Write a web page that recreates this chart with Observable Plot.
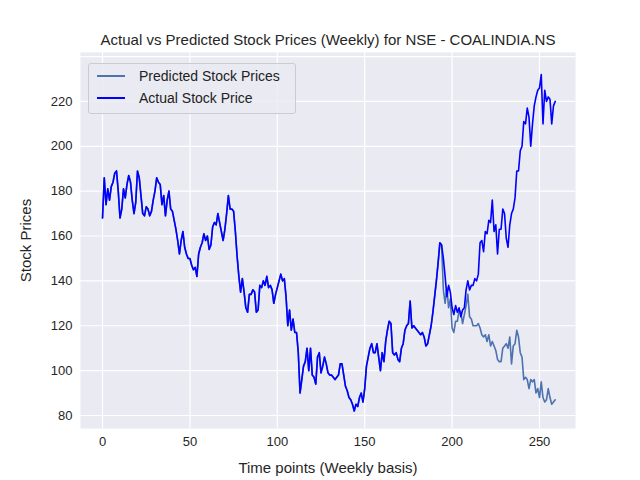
<!DOCTYPE html>
<html><head><meta charset="utf-8">
<script src="https://cdn.jsdelivr.net/npm/d3@7"></script>
<script src="https://cdn.jsdelivr.net/npm/@observablehq/plot@0.6"></script>
<style>
body{margin:0;background:#fff;font-family:"Liberation Sans",Arial,sans-serif}
#wrap{position:relative;width:640px;height:480px}
.lg{position:absolute;left:88px;top:63px;width:206px;height:49px;border:1px solid #ccc;border-radius:3px;background:rgba(234,234,242,0.8);font-size:14px;color:#222}
.lg div{position:absolute;left:8px;display:flex;align-items:center}
.lg span{display:inline-block;width:28px;height:0;border-top:2px solid;margin-right:14px}
</style></head><body>
<div id="wrap"></div>
<script>
const actual = [168,186,174,181,176,182,184,188,189,180,168,172,181,177,183,187,184,176,170,175,
189,186,178,170,169,173,172,169,171,176,180,186,184,183,174,178,169,176,180,172,
171,167,163,158,152,158,162,155,152,150,150,147,145,146,142,152,155,157,161,158,
160,154,156,164,166,165,170,166,162,158,163,170,178,172,172,171,162,151,142,135,
141,135,128,126,134,134,136,135,126,127,138,137,140,138,142,137,138,136,130,134,
137,140,143,140,141,133,120,127,118,123,117,117,108,90,96,102,104,110,100,110,
98,97,94,106,108,99,102,106,103,99,98,98,97,96,97,98,103,103,98,93,
91,88,87,85,82,85,84,88,90,86,92,102,106,110,112,108,108,112,106,100,
108,104,113,118,122,121,108,107,108,105,104,110,112,118,120,121,131,119,120,119,
118,117,116,117,115,111,112,116,120,126,133,140,148,157,156,150,142,133,138,135,
128,125,129,126,128,124,127,128,136,140,136,138,138,141,140,143,157,158,153,162,
161,167,166,176,162,165,152,163,163,172,170,159,155,165,170,172,177,189,189,198,
200,211,210,217,213,200,210,218,222,225,226,232,210,225,220,222,221,210,218,220];
const predictedTail = [136,130,137,128,132,119,117,122,122,127,126,121,125,129,134,124,123,120,120,120,
121,119,116,115,116,113,116,111,113,111,109,105,104,104,110,111,112,110,115,103,
111,112,118,115,108,106,96,97,96,92,96,95,96,90,92,88,95,88,86,87,92,88,85,86,87].slice(0,65);
const predicted = actual.slice(0,195).concat(predictedTail);
const rowsA = actual.map((v,i)=>({t:i,v}));
const rowsP = predicted.map((v,i)=>({t:i,v}));

const chart = Plot.plot({
  width:640, height:480,
  marginTop:52, marginLeft:80, marginRight:65, marginBottom:52,
  style:{fontFamily:"Liberation Sans, Arial, sans-serif", fontSize:"13px", color:"#262626", background:"#fff"},
  x:{domain:[-12.6,270.6], ticks:[0,50,100,150,200,250], label:"Time points (Weekly basis)", labelArrow:"none", labelAnchor:"center", labelOffset:44, tickSize:0, tickPadding:8},
  y:{domain:[74.2,241.8], ticks:[80,100,120,140,160,180,200,220], label:"Stock Prices", labelArrow:"none", labelAnchor:"center", labelOffset:60, tickSize:0, tickPadding:8},
  marks:[
    Plot.frame({fill:"#eaeaf2", stroke:null}),
    Plot.gridX({stroke:"#fff", strokeOpacity:1, strokeWidth:1.2}),
    Plot.gridY({stroke:"#fff", strokeOpacity:1, strokeWidth:1.2}),
    Plot.line(rowsP,{x:"t", y:"v", stroke:"#4c72b0", strokeWidth:1.6}),
    Plot.line(rowsA,{x:"t", y:"v", stroke:"#0000ff", strokeWidth:1.6}),
    Plot.text(["Actual vs Predicted Stock Prices (Weekly) for NSE - COALINDIA.NS"],{frameAnchor:"top", dy:-8, lineAnchor:"bottom", fontSize:15, fill:"#262626"})
  ]
});
chart.querySelectorAll('[aria-label$="axis label"]').forEach(e=>e.setAttribute("font-size","15"));
const wrap = document.getElementById("wrap");
wrap.append(chart);
const lg = document.createElement("div");
lg.className="lg";
lg.innerHTML='<div style="top:4px"><span style="border-color:#4c72b0"></span>Predicted Stock Prices</div><div style="top:26px"><span style="border-color:#0000ff"></span>Actual Stock Price</div>';
wrap.append(lg);
</script>
</body></html>
